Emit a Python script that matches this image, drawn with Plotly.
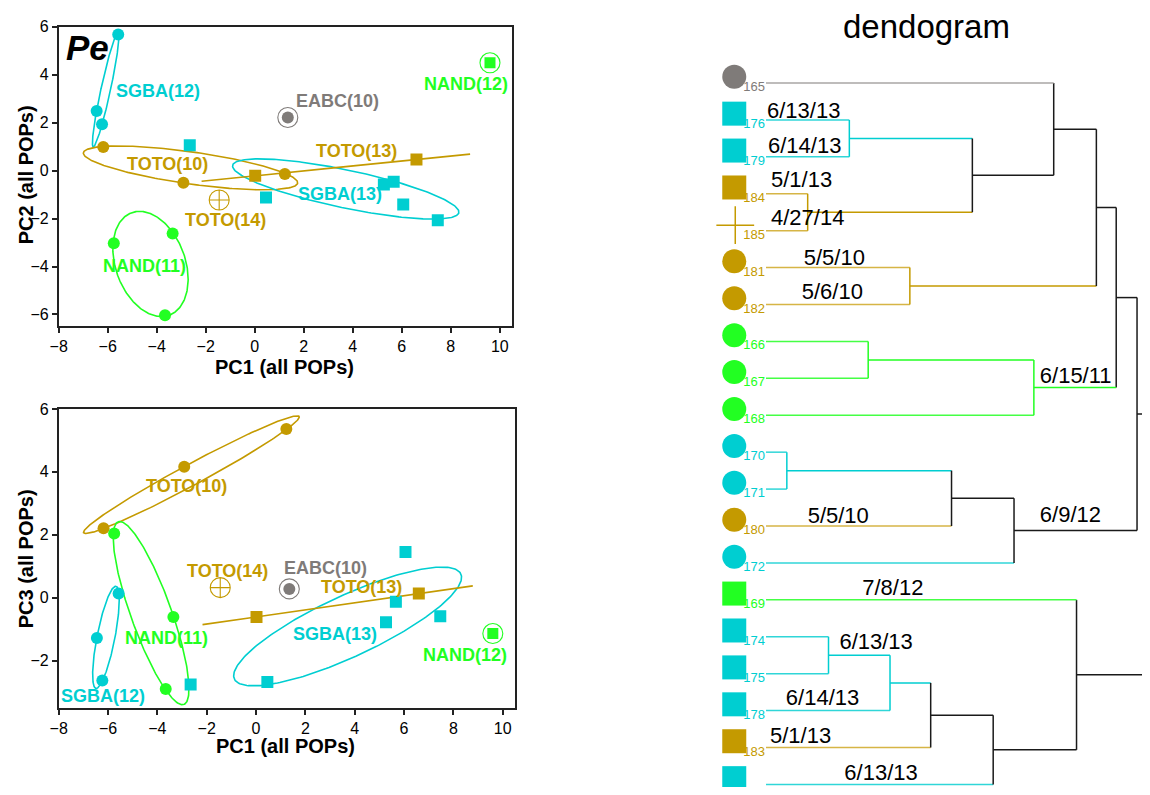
import numpy as np
import plotly.graph_objects as go

# ---------------- colours ----------------
CYAN = '#00CED1'
GOLD = '#C49A00'
GREEN = '#22FF22'
GRAY = '#7F7B79'
MIX = '#1a1a1a'
group_color = {'SGBA': CYAN, 'TOTO': GOLD, 'NAND': GREEN, 'EABC': GRAY}
leaf_line_color = {CYAN: '#30D6D8', GOLD: '#D6B546', GREEN: '#44FF44', GRAY: '#A8A6A4'}

# ---------------- PCA data (PC1, PC2, PC3) ----------------
sgba12_pc1 = [-5.57, -6.45, -6.23]
sgba12_pc2 = [5.67, 2.48, 1.93]
sgba12_pc3 = [0.13, -1.28, -2.63]

toto10_pc1 = [-6.18, -2.91, 1.23]
toto10_pc2 = [0.98, -0.51, -0.14]
toto10_pc3 = [2.21, 4.16, 5.36]

nand11_pc1 = [-5.75, -3.35, -3.66]
nand11_pc2 = [-3.03, -2.62, -6.03]
nand11_pc3 = [2.04, -0.61, -2.90]

sgba13_pc1 = [-2.65, 0.46, 5.27, 5.67, 6.06, 7.47]
sgba13_pc2 = [1.05, -1.12, -0.58, -0.47, -1.42, -2.07]
sgba13_pc3 = [-2.76, -2.68, -0.78, -0.13, 1.45, -0.59]

toto13_pc1 = [0.02, 6.60]
toto13_pc2 = [-0.22, 0.46]
toto13_pc3 = [-0.61, 0.13]

toto14_pc1 = [-1.45]
toto14_pc2 = [-1.23]
toto14_pc3 = [0.32]

eabc10_pc1 = [1.35]
eabc10_pc2 = [2.21]
eabc10_pc3 = [0.28]

nand12_pc1 = [9.60]
nand12_pc2 = [4.49]
nand12_pc3 = [-1.14]

# group label placements (PC1, PC2) top panel and (PC1, PC3) bottom panel
label_names = ['SGBA(12)', 'TOTO(10)', 'NAND(11)', 'SGBA(13)', 'TOTO(13)', 'TOTO(14)', 'EABC(10)', 'NAND(12)']
label_colors = [CYAN, GOLD, GREEN, CYAN, GOLD, GOLD, GRAY, GREEN]
label_top_x = [-3.94, -3.56, -4.48, 3.46, 4.14, -1.18, 3.37, 8.63]
label_top_y = [3.31, 0.28, -3.96, -0.99, 0.83, -2.05, 2.90, 3.59]
label_bot_x = [-6.21, -2.80, -3.61, 3.21, 4.26, -1.16, 2.82, 8.47]
label_bot_y = [-3.14, 3.55, -1.27, -1.14, 0.34, 0.86, 0.95, -1.82]

# ---------------- dendrogram data ----------------
leaf_ids = ['165', '176', '179', '184', '185', '181', '182', '166', '167', '168',
            '170', '171', '180', '172', '169', '174', '175', '178', '183', '177']
leaf_group = ['EABC', 'SGBA', 'SGBA', 'TOTO', 'TOTO', 'TOTO', 'TOTO', 'NAND', 'NAND', 'NAND',
              'SGBA', 'SGBA', 'TOTO', 'SGBA', 'NAND', 'SGBA', 'SGBA', 'SGBA', 'TOTO', 'SGBA']
leaf_symbol = ['circle', 'square', 'square', 'square', 'cross-thin-open', 'circle', 'circle',
               'circle', 'circle', 'circle', 'circle', 'circle', 'circle', 'circle', 'square',
               'square', 'square', 'square', 'square', 'square']
# linkage: child a, child b, merge height (clusters numbered from 20)
link_a = [1, 3, 20, 0, 5, 23, 7, 26, 25, 10, 29, 30, 28, 15, 33, 34, 35, 14, 32]
link_b = [2, 4, 21, 22, 6, 24, 8, 9, 27, 11, 12, 13, 31, 16, 17, 18, 19, 36, 37]
link_h = [8.4, 4.2, 20.8, 29.0, 14.5, 33.3, 10.3, 27.0, 35.3, 2.1, 18.7, 25.0, 37.4,
          6.3, 12.5, 16.6, 22.9, 31.3, 41.0]
# date annotations: text, x (height units), y (leaf row units)
date_text = ['6/13/13', '6/14/13', '5/1/13', '4/27/14', '5/5/10', '5/6/10', '6/15/11',
             '6/9/12', '5/5/10', '7/8/12', '6/13/13', '6/14/13', '5/1/13', '6/13/13']
date_x = [0.1, 0.2, 0.5, 0.5, 3.8, 3.6, 27.6, 27.6, 4.2, 9.7, 7.4, 2.0, 0.4, 7.9]
date_y = [0.79, 1.76, 2.68, 3.71, 4.78, 5.69, 7.97, 11.75, 11.78, 13.71, 15.17, 16.71, 17.72, 18.72]

FONT = 'Liberation Sans, Arial, sans-serif'
K50 = np.sqrt(-2 * np.log(0.5))  # 50% normal density ellipse

# page geometry (the html body adds an 8px margin)
OFF = 8
W, H = 1150 - 2 * OFF, 795 - 2 * OFF
LDX, LDY = -5, -4  # fine shift of the PCA panels


def px_x(p):
    return (p - OFF) / W


def px_y(p):
    return 1 - (p - OFF) / H


def density_ellipse(xs, ys, n=240):
    pts = np.vstack([xs, ys]).astype(float)
    mu = pts.mean(axis=1)
    cov = np.cov(pts)
    vals, vecs = np.linalg.eigh(cov)
    vals = np.clip(vals, 0, None)
    t = np.linspace(0, 2 * np.pi, n)
    circ = np.vstack([np.cos(t), np.sin(t)])
    e = vecs @ (np.sqrt(vals)[:, None] * circ) * K50 + mu[:, None]
    return e[0], e[1]


fig = go.Figure()

panels = [('x', 'y', 'pc2'), ('x2', 'y2', 'pc3')]
data_sets = {
    'sgba12': (sgba12_pc1, sgba12_pc2, sgba12_pc3, CYAN, 'circle'),
    'toto10': (toto10_pc1, toto10_pc2, toto10_pc3, GOLD, 'circle'),
    'nand11': (nand11_pc1, nand11_pc2, nand11_pc3, GREEN, 'circle'),
    'sgba13': (sgba13_pc1, sgba13_pc2, sgba13_pc3, CYAN, 'square'),
    'toto13': (toto13_pc1, toto13_pc2, toto13_pc3, GOLD, 'square'),
}

for xa, ya, which in panels:
    for key, (p1, p2, p3, col, sym) in data_sets.items():
        yy = p2 if which == 'pc2' else p3
        ex, ey = density_ellipse(p1, yy)
        fig.add_trace(go.Scatter(x=ex, y=ey, mode='lines', line=dict(color=col, width=1.6),
                                 xaxis=xa, yaxis=ya, hoverinfo='skip', showlegend=False))
    for key, (p1, p2, p3, col, sym) in data_sets.items():
        yy = p2 if which == 'pc2' else p3
        fig.add_trace(go.Scatter(x=p1, y=yy, mode='markers',
                                 marker=dict(symbol=sym, size=12, color=col),
                                 xaxis=xa, yaxis=ya, showlegend=False))
    t14y = toto14_pc2 if which == 'pc2' else toto14_pc3
    fig.add_trace(go.Scatter(x=toto14_pc1, y=t14y, mode='markers',
                             marker=dict(symbol='circle-cross-open', size=20,
                                         color=GOLD, line=dict(color=GOLD, width=1.1)),
                             xaxis=xa, yaxis=ya, showlegend=False))
    ey1 = eabc10_pc2 if which == 'pc2' else eabc10_pc3
    fig.add_trace(go.Scatter(x=eabc10_pc1, y=ey1, mode='markers',
                             marker=dict(symbol='circle-open', size=20,
                                         color=GRAY, line=dict(color=GRAY, width=1.1)),
                             xaxis=xa, yaxis=ya, showlegend=False))
    fig.add_trace(go.Scatter(x=eabc10_pc1, y=ey1, mode='markers',
                             marker=dict(symbol='circle', size=12, color=GRAY),
                             xaxis=xa, yaxis=ya, showlegend=False))
    ny1 = nand12_pc2 if which == 'pc2' else nand12_pc3
    fig.add_trace(go.Scatter(x=nand12_pc1, y=ny1, mode='markers',
                             marker=dict(symbol='circle-open', size=20,
                                         color=GREEN, line=dict(color=GREEN, width=1.1)),
                             xaxis=xa, yaxis=ya, showlegend=False))
    fig.add_trace(go.Scatter(x=nand12_pc1, y=ny1, mode='markers',
                             marker=dict(symbol='square', size=11, color=GREEN),
                             xaxis=xa, yaxis=ya, showlegend=False))

annotations = []
for i, name in enumerate(label_names):
    annotations.append(dict(x=label_top_x[i], y=label_top_y[i], xref='x', yref='y',
                            xanchor='center', yanchor='middle',
                            text='<b>%s</b>' % name, showarrow=False,
                            font=dict(family=FONT, size=18, color=label_colors[i])))
    annotations.append(dict(x=label_bot_x[i], y=label_bot_y[i], xref='x2', yref='y2',
                            xanchor='center', yanchor='middle',
                            text='<b>%s</b>' % name, showarrow=False,
                            font=dict(family=FONT, size=18, color=label_colors[i])))
annotations.append(dict(x=-7.8, y=5.12, xref='x', yref='y', xanchor='left', yanchor='middle',
                        text='<b><i>Pe</i></b>', showarrow=False,
                        font=dict(family=FONT, size=35, color='black')))

# ---------------- dendrogram ----------------
node_y = [float(i) for i in range(len(leaf_ids))]
node_h = [0.0] * len(leaf_ids)
node_c = [group_color[g] for g in leaf_group]
segs = {}


def add_seg(col, xs, ys):
    segs.setdefault(col, ([], []))
    segs[col][0].extend(xs + [None])
    segs[col][1].extend(ys + [None])


for a, b, h in zip(link_a, link_b, link_h):
    ya_, yb_ = node_y[a], node_y[b]
    ca = node_c[a] if a >= len(leaf_ids) else leaf_line_color[node_c[a]]
    cb = node_c[b] if b >= len(leaf_ids) else leaf_line_color[node_c[b]]
    add_seg(ca, [node_h[a], h], [ya_, ya_])
    add_seg(cb, [node_h[b], h], [yb_, yb_])
    col = node_c[a] if node_c[a] == node_c[b] else MIX
    add_seg(col, [h, h], [ya_, yb_])
    node_y.append((ya_ + yb_) / 2)
    node_h.append(h)
    node_c.append(col)

for col, (xs, ys) in segs.items():
    fig.add_trace(go.Scatter(x=xs, y=ys, mode='lines', line=dict(color=col, width=1.5),
                             xaxis='x3', yaxis='y3', hoverinfo='skip', showlegend=False))

leaf_rows = list(range(len(leaf_ids)))
leaf_cols = [group_color[g] for g in leaf_group]
fig.add_trace(go.Scatter(x=[-0.1] * len(leaf_ids), y=[r + 0.13 for r in leaf_rows],
                         mode='text', text=leaf_ids, textposition='middle left',
                         textfont=dict(family=FONT, size=13, color=leaf_cols),
                         xaxis='x3', yaxis='y3', showlegend=False, cliponaxis=False))
filled = [i for i, s in enumerate(leaf_symbol) if not s.endswith('open')]
opened = [i for i, s in enumerate(leaf_symbol) if s.endswith('open')]
fig.add_trace(go.Scatter(x=[-3.2] * len(filled), y=[leaf_rows[i] - 0.17 for i in filled],
                         mode='markers',
                         marker=dict(symbol=[leaf_symbol[i] for i in filled], size=24,
                                     color=[leaf_cols[i] for i in filled]),
                         xaxis='x3', yaxis='y3', showlegend=False, cliponaxis=False))
fig.add_trace(go.Scatter(x=[-3.1] * len(opened), y=[leaf_rows[i] - 0.15 for i in opened],
                         mode='markers',
                         marker=dict(symbol=[leaf_symbol[i] for i in opened], size=27,
                                     color=[leaf_cols[i] for i in opened],
                                     line=dict(color=[leaf_cols[i] for i in opened], width=1.5)),
                         xaxis='x3', yaxis='y3', showlegend=False, cliponaxis=False))
fig.add_trace(go.Scatter(x=date_x, y=date_y, mode='text', text=date_text,
                         textposition='middle right',
                         textfont=dict(family=FONT, size=22, color='black'),
                         xaxis='x3', yaxis='y3', showlegend=False, cliponaxis=False))

annotations.append(dict(x=px_x(925), y=px_y(19), xref='paper', yref='paper',
                        xanchor='center', yanchor='middle',
                        text='dendogram', showarrow=False,
                        font=dict(family=FONT, size=33, color='black')))

for txt, xp, yp, ang in [('PC1 (all POPs)', 283, 367, 0), ('PC2 (all POPs)', 22, 172, -90),
                         ('PC1 (all POPs)', 284, 750, 0), ('PC3 (all POPs)', 22, 560, -90)]:
    annotations.append(dict(x=px_x(xp + LDX), y=px_y(yp + LDY), xref='paper', yref='paper',
                            xanchor='center', yanchor='middle',
                            text='<b>%s</b>' % txt, showarrow=False, textangle=ang,
                            font=dict(family=FONT, size=20, color='black')))

axis_common = dict(showline=True, linecolor='#222', linewidth=1.5, mirror=True,
                   ticks='outside', ticklen=5, tickwidth=1.5, tickcolor='#222',
                   showgrid=False, zeroline=False, dtick=2,
                   tickfont=dict(family=FONT, size=16, color='black'))

# dendrogram axis: 10 px per height unit, 37.3 px per leaf row
dx0 = 700
x3_lo = -6.3
x3_hi = x3_lo + (1150 - OFF - dx0) / 10.0
y3_top = (OFF - 75.7) / 37.3
y3_bot = (OFF + H - 75.7) / 37.3

fig.update_layout(
    width=W, height=H,
    margin=dict(l=0, r=0, t=0, b=0),
    paper_bgcolor='white', plot_bgcolor='white',
    showlegend=False,
    annotations=annotations,
    xaxis=dict(domain=[px_x(55 + LDX), px_x(512 + LDX)], range=[-8, 10.5], anchor='y', **axis_common),
    yaxis=dict(domain=[px_y(325.7 + LDY), px_y(22.7 + LDY)], range=[-6.5, 6], anchor='x', **axis_common),
    xaxis2=dict(domain=[px_x(55 + LDX), px_x(515 + LDX)], range=[-8, 10.5], anchor='y2', **axis_common),
    yaxis2=dict(domain=[px_y(711 + LDY), px_y(409 + LDY)], range=[-3.5, 6], anchor='x2', **axis_common),
    xaxis3=dict(domain=[px_x(dx0), 1], range=[x3_lo, x3_hi], anchor='y3', visible=False),
    yaxis3=dict(domain=[0, 1], range=[y3_bot, y3_top], anchor='x3', visible=False),
)

fig.write_html('out.html')
